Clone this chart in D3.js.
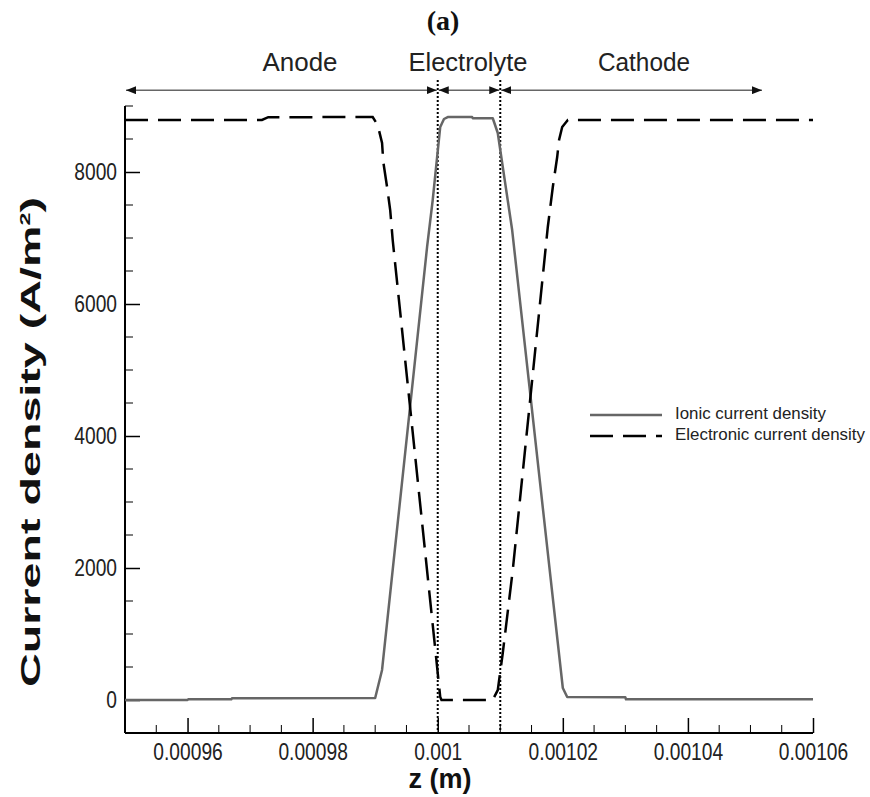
<!DOCTYPE html>
<html>
<head>
<meta charset="utf-8">
<script src="https://cdn.jsdelivr.net/npm/d3@7"></script>
<style>
  body { margin: 0; background: #fff; }
  svg { display: block; }
</style>
</head>
<body>
<svg width="870" height="797"></svg>
<script>
// position along the cell (m)
const ionicZ = [0.00095, 0.00096, 0.0009601, 0.000967, 0.0009671, 0.00099, 0.0009911, 0.0009928, 0.0009983,
  0.0009992, 0.0010004, 0.001001, 0.0010016, 0.0010055, 0.0010056, 0.0010088, 0.0010096, 0.0010104,
  0.0010119, 0.0010179, 0.00102, 0.0010207, 0.00103, 0.0010301, 0.00106];
const ionicJ = [0, 0, 10, 10, 25, 30, 455, 1970, 6864,
  7576, 8682, 8803, 8833, 8833, 8814, 8814, 8591, 8076,
  7121, 1970, 182, 45, 40, 10, 10];

const electronicZ = [0.00095, 0.0009719, 0.0009729, 0.0009896, 0.0009904, 0.0009911, 0.0009913, 0.0009919,
  0.0009924, 0.0009928, 0.0010004, 0.0010006, 0.0010088, 0.0010096, 0.0010104, 0.001012, 0.0010176,
  0.0010184, 0.0010191, 0.0010194, 0.0010199, 0.0010208, 0.00106];
const electronicJ = [8788, 8788, 8830, 8833, 8712, 8439, 8151, 7773,
  7424, 6970, 45, 0, 0, 150, 712, 1970, 7167,
  7773, 8227, 8485, 8682, 8788, 8788];

const xTicks = [0.00096, 0.00098, 0.001, 0.00102, 0.00104, 0.00106];
const xTickLabels = ['0.00096', '0.00098', '0.001', '0.00102', '0.00104', '0.00106'];
const yTicks = [0, 2000, 4000, 6000, 8000];
const yTickLabels = ['0', '2000', '4000', '6000', '8000'];

const regionNames = ['Anode', 'Electrolyte', 'Cathode'];
const regionStart = [0.00095, 0.001, 0.00101];
const regionEnd = [0.001, 0.00101, 0.001052];
const interfaces = [0.001, 0.00101];

const seriesNames = ['Ionic current density', 'Electronic current density'];

const ionic = ionicZ.map((z, i) => ({ z, j: ionicJ[i] }));
const electronic = electronicZ.map((z, i) => ({ z, j: electronicJ[i] }));

const x = d3.scaleLinear([0.00095, 0.00106], [125, 813]);
const y = d3.scaleLinear([-500, 9000], [733, 106]);

const svg = d3.select('svg');
const sans = 'Liberation Sans, Arial, sans-serif';

// text in the source picture is taller than it is wide: set a big font, then squeeze
function squeeze(sel, ratio) {
  sel.each(function () {
    const len = this.getComputedTextLength();
    d3.select(this)
      .attr('textLength', len * ratio)
      .attr('lengthAdjust', 'spacingAndGlyphs');
  });
}

svg.append('defs').append('marker')
  .attr('id', 'head')
  .attr('viewBox', '0 0 10 8')
  .attr('refX', 10).attr('refY', 4)
  .attr('markerWidth', 10).attr('markerHeight', 8)
  .attr('markerUnits', 'userSpaceOnUse')
  .attr('orient', 'auto-start-reverse')
  .append('path')
    .attr('d', 'M0,0 L10,4 L0,8 Z')
    .attr('fill', '#111');

// title
svg.append('text')
  .text('(a)')
  .attr('x', 443).attr('y', 30)
  .attr('text-anchor', 'middle')
  .style('font-family', 'Liberation Serif, Times New Roman, serif')
  .style('font-weight', 'bold')
  .style('font-size', '28px')
  .attr('fill', '#111');

// region arrows
const arrowY = y(9240);
regionNames.forEach((name, i) => {
  svg.append('line')
    .attr('x1', x(regionStart[i]) + 1).attr('x2', x(regionEnd[i]) - 1)
    .attr('y1', arrowY).attr('y2', arrowY)
    .attr('stroke', '#666')
    .attr('stroke-width', 1.5)
    .attr('marker-start', 'url(#head)')
    .attr('marker-end', 'url(#head)');
});

const labelCentres = [300, 468, 644];
const labelWidths = [75, 119, 92];
regionNames.forEach((name, i) => {
  svg.append('text')
    .text(name)
    .attr('x', labelCentres[i]).attr('y', 71)
    .attr('text-anchor', 'middle')
    .attr('textLength', labelWidths[i])
    .attr('lengthAdjust', 'spacingAndGlyphs')
    .style('font-family', sans)
    .style('font-size', '25px')
    .attr('fill', '#222');
});

// interface lines
svg.selectAll('line.iface')
  .data(interfaces)
  .join('line')
    .attr('class', 'iface')
    .attr('x1', (d) => x(d)).attr('x2', (d) => x(d))
    .attr('y1', 80).attr('y2', 733)
    .attr('stroke', '#000')
    .attr('stroke-width', 2)
    .attr('stroke-dasharray', '2 2');

// axes
const xMinor = d3.range(0.00095, 0.0010601, 0.000005).filter((v) => !xTicks.some((t) => Math.abs(t - v) < 1e-9));
const yMinor = d3.range(-500, 9001, 500).filter((v) => v % 2000 !== 0);

const xAxis = svg.append('g')
  .attr('transform', 'translate(0, 733)')
  .call(d3.axisBottom(x).tickValues(xTicks).tickFormat((d, i) => xTickLabels[i]).tickSize(-15).tickPadding(8));
xAxis.append('g')
  .selectAll('line')
  .data(xMinor)
  .join('line')
    .attr('x1', (d) => x(d)).attr('x2', (d) => x(d))
    .attr('y1', 0).attr('y2', -8)
    .attr('stroke', '#000');

const yAxis = svg.append('g')
  .attr('transform', 'translate(125, 0)')
  .call(d3.axisLeft(y).tickValues(yTicks).tickFormat((d, i) => yTickLabels[i]).tickSize(-15).tickPadding(8));
yAxis.append('g')
  .selectAll('line')
  .data(yMinor)
  .join('line')
    .attr('y1', (d) => y(d)).attr('y2', (d) => y(d))
    .attr('x1', 0).attr('x2', 8)
    .attr('stroke', '#000');

svg.selectAll('.domain').attr('stroke-width', 2);
xAxis.select('.domain').attr('d', `M${x(0.00095)},0H${x(0.00106)}`);
yAxis.select('.domain').attr('d', `M0,${y(-500)}V${y(9000)}`);
svg.selectAll('.tick line').attr('stroke-width', 1.5);
svg.selectAll('.tick text')
  .style('font-family', sans)
  .style('font-size', '24px')
  .attr('fill', '#222')
  .call(squeeze, 0.8);
xAxis.selectAll('.tick text').attr('dy', '0.8em');

// curves
const line = d3.line()
  .x((d) => x(d.z))
  .y((d) => y(d.j));

svg.append('path')
  .datum(ionic)
  .attr('d', line)
  .attr('fill', 'none')
  .attr('stroke', '#666')
  .attr('stroke-width', 2.5)
  .attr('stroke-linejoin', 'round');

svg.append('path')
  .datum(electronic)
  .attr('d', line)
  .attr('fill', 'none')
  .attr('stroke', '#000')
  .attr('stroke-width', 2.5)
  .attr('stroke-dasharray', '23 10');

// legend
const legendY = [415, 436];
const legendWidths = [151, 190];
seriesNames.forEach((name, i) => {
  svg.append('line')
    .attr('x1', 590).attr('x2', 662)
    .attr('y1', legendY[i]).attr('y2', legendY[i])
    .attr('stroke', i === 0 ? '#666' : '#000')
    .attr('stroke-width', 2.5)
    .attr('stroke-dasharray', i === 0 ? null : '23 10');
  svg.append('text')
    .text(name)
    .attr('x', 675).attr('y', legendY[i])
    .attr('dominant-baseline', 'middle')
    .attr('textLength', legendWidths[i])
    .attr('lengthAdjust', 'spacingAndGlyphs')
    .style('font-family', sans)
    .style('font-size', '17px')
    .attr('fill', '#222');
});

// axis titles
svg.append('text')
  .text('z (m)')
  .attr('x', 440).attr('y', 788)
  .attr('text-anchor', 'middle')
  .attr('textLength', 63)
  .attr('lengthAdjust', 'spacingAndGlyphs')
  .style('font-family', sans)
  .style('font-weight', 'bold')
  .style('font-size', '28px')
  .attr('fill', '#111');

const yTitle = svg.append('text')
  .attr('transform', 'translate(40, 442) rotate(-90)')
  .attr('text-anchor', 'middle')
  .attr('textLength', 490)
  .attr('lengthAdjust', 'spacingAndGlyphs')
  .style('font-family', sans)
  .style('font-weight', 'bold')
  .style('font-size', '28px')
  .attr('fill', '#111');
yTitle.append('tspan').text('Current density (A/m');
yTitle.append('tspan').text('2').attr('dy', -10).style('font-size', '14px');
yTitle.append('tspan').text(')').attr('dy', 10);
</script>
</body>
</html>
